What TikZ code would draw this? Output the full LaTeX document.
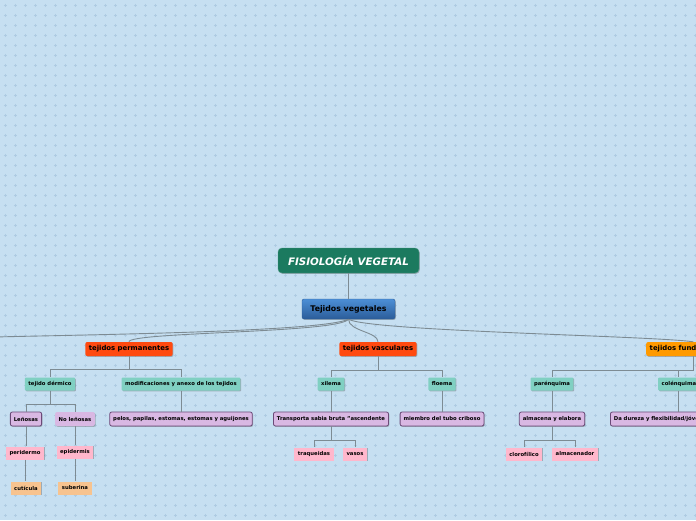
\documentclass[tikz,border=0pt]{standalone}
\usepackage{fontspec}
\setmainfont{DejaVu Sans}
\usetikzlibrary{positioning,shadows,calc}
\definecolor{bgblue}{HTML}{C6DFF1}
\definecolor{gridc}{HTML}{AECBE2}
\definecolor{rootc}{HTML}{1B7A5F}
\definecolor{bluet}{HTML}{4C8FD6}
\definecolor{blueb}{HTML}{2B5C99}
\definecolor{redc}{HTML}{FF4A10}
\definecolor{orac}{HTML}{FF9A00}
\definecolor{tealc}{HTML}{80D0C2}
\definecolor{lavc}{HTML}{D9B8E3}
\definecolor{lavd}{HTML}{6B4A78}
\definecolor{pinkc}{HTML}{FFB7CC}
\definecolor{peachc}{HTML}{F7C38F}
\definecolor{linkc}{HTML}{7D8B93}
\newcommand\tinyb{\fontsize{5.3}{6}\selectfont\bfseries}
\tikzset{
  shd/.style={drop shadow={shadow xshift=0.8pt, shadow yshift=-0.9pt, opacity=0.35, fill=black!70}},
  rootbox/.style={fill=rootc, draw=rootc!80!white, rounded corners=4pt, minimum width=141pt, minimum height=25pt, inner sep=0pt, text=white, font=\fontsize{10.3}{11}\selectfont\bfseries\itshape, shd},
  tvbox/.style={top color=bluet, bottom color=blueb, draw=blueb, rounded corners=2pt, minimum width=93pt, minimum height=20pt, inner sep=0pt, font=\fontsize{7.8}{9}\selectfont\bfseries, shd},
  mainbox/.style={rounded corners=2pt, minimum height=14pt, inner xsep=3.5pt, inner ysep=0pt, font=\fontsize{6.9}{8}\selectfont\bfseries, shd},
  subbox/.style={fill=tealc, rounded corners=1pt, minimum height=13pt, inner xsep=3.5pt, inner ysep=0pt, font=\tinyb, shd},
  infobox/.style={fill=lavc, draw=lavd, line width=0.8pt, rounded corners=2pt, minimum height=14pt, inner xsep=3.5pt, inner ysep=0pt, font=\tinyb, shd},
  pinkbox/.style={fill=pinkc, minimum height=13pt, inner xsep=3.5pt, inner ysep=0pt, font=\tinyb, shd},
  peachbox/.style={fill=peachc, minimum height=13pt, inner xsep=3.5pt, inner ysep=0pt, font=\tinyb, shd},
  lnk/.style={draw=linkc, line width=0.9pt}
}
\begin{document}
\begin{tikzpicture}[x=1pt, y=-1pt]
  \useasboundingbox (0,0) rectangle (696,520);
  \fill[bgblue] (0,0) rectangle (696,520);
  % dotted background
  \foreach \i in {0,...,51}
    \draw[gridc, line width=0.6pt, dash pattern=on 3pt off 7pt, dash phase=6.5pt] (0,\i*10+5) -- (696,\i*10+5);
  \foreach \i in {0,...,69}
    \draw[gridc, line width=0.6pt, dash pattern=on 3pt off 7pt, dash phase=6.5pt] (\i*10+5,0) -- (\i*10+5,520);

  \node[rootbox] (root) at (348.5,260.5) {FISIOLOGÍA VEGETAL};
  \node[tvbox] (tv) at (348.5,309) {Tejidos vegetales};
  \draw[lnk] (root.south) -- (tv.north);

  \node[mainbox, fill=redc] (perm) at (129,349) {tejidos permanentes};
  \node[mainbox, fill=redc] (vasc) at (378,349) {tejidos vasculares};
  \node[mainbox, fill=orac, anchor=west] (fund) at (646,349) {tejidos fundamentales};
  \coordinate (lft) at (-40,338);

  \draw[lnk] (tv.south) .. controls +(-30,14) and +(80,-3) .. (lft);
  \draw[lnk] (tv.south) .. controls +(-10,14) and +(0,-10) .. (perm.north);
  \draw[lnk] (tv.south) .. controls +(0,12) and +(0,-10) .. (vasc.north);
  \draw[lnk] (tv.south) .. controls +(20,12) and +(-40,-6) .. (fund.north);

  % tejidos permanentes
  \node[subbox] (derm) at (50,384) {tejido dérmico};
  \node[subbox] (modif) at (181,384) {modificaciones y anexo de los tejidos};
  \draw[lnk] (perm.south) -- ++(0,13) -| (derm.north);
  \draw[lnk] (perm.south) -- ++(0,13) -| (modif.north);

  \node[infobox] (len) at (26,419) {Leñosas};
  \node[infobox, draw=none] (nolen) at (75,419) {No leñosas};
  \draw[lnk] (derm.south) -- ++(0,14) -| (len.north);
  \draw[lnk] (derm.south) -- ++(0,14) -| (nolen.north);

  \node[infobox] (pelos) at (181,419) {pelos, papilas, estomas, estomas y aguijones};
  \draw[lnk] (modif.south) -- (pelos.north);

  \node[pinkbox] (peri) at (25,453) {peridermo};
  \node[peachbox] (cut) at (26,488) {cutícula};
  \draw[lnk] (len.south) -- (len.south |- peri.north);
  \draw[lnk] (peri.south) -- (peri.south |- cut.north);

  \node[pinkbox] (epi) at (75,452) {epidermis};
  \node[peachbox] (sub) at (75,488) {suberina};
  \draw[lnk] (nolen.south) -- (epi.north);
  \draw[lnk] (epi.south) -- (sub.north);

  % tejidos vasculares
  \node[subbox] (xil) at (331,384) {xilema};
  \node[subbox] (flo) at (442,384) {floema};
  \draw[lnk] (vasc.south) -- ++(0,14) -| (xil.north);
  \draw[lnk] (vasc.south) -- ++(0,14) -| (flo.north);

  \node[infobox] (trans) at (331,419) {Transporta sabia bruta "ascendente};
  \node[infobox] (miem) at (442,419) {miembro del tubo criboso};
  \draw[lnk] (xil.south) -- (trans.north);
  \draw[lnk] (flo.south) -- (miem.north);

  \node[pinkbox] (traq) at (314,454) {traqueidas};
  \node[pinkbox] (vas) at (355,454) {vasos};
  \draw[lnk] (trans.south) -- ++(0,14) -| (traq.north);
  \draw[lnk] (trans.south) -- ++(0,14) -| (vas.north);

  % tejidos fundamentales
  \node[subbox] (par) at (552,384) {parénquima};
  \node[subbox, anchor=west] (col) at (658,384) {colénquima};
  \draw[lnk] (fund.south) -- ++(0,14) -| (par.north);
  \draw[lnk] (fund.south) -- ++(0,14) -| (col.north);

  \node[infobox] (alm) at (552,419) {almacena y elabora};
  \node[infobox, anchor=west] (dur) at (610,419) {Da dureza y flexibilidad/jóvenes};
  \draw[lnk] (par.south) -- (alm.north);
  \draw[lnk] (col.south) -- (col.south |- dur.north);

  \node[pinkbox] (clo) at (524,454) {clorofílico};
  \node[pinkbox] (almc) at (575,454) {almacenador};
  \draw[lnk] (alm.south) -- ++(0,14) -| (clo.north);
  \draw[lnk] (alm.south) -- ++(0,14) -| (almc.north);
\end{tikzpicture}
\end{document}
